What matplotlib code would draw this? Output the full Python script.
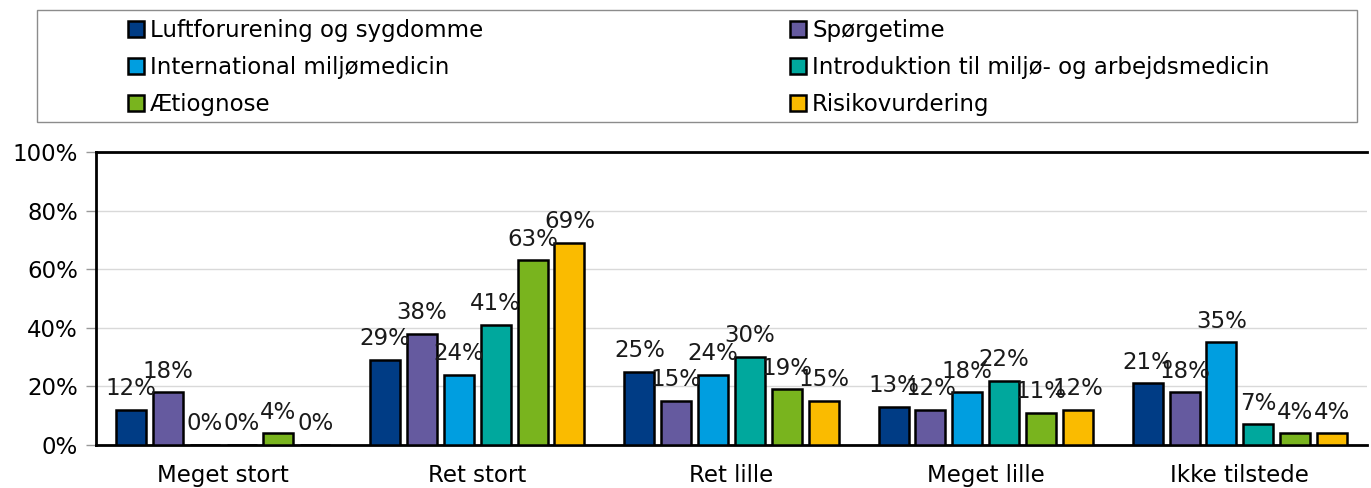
import matplotlib.pyplot as plt
import numpy as np
from matplotlib.patches import Rectangle, Patch

# Data
kategorier = ["Meget stort", "Ret stort", "Ret lille", "Meget lille", "Ikke tilstede"]
serier = ["Luftforurening og sygdomme", "Spørgetime", "International miljømedicin",
          "Introduktion til miljø- og arbejdsmedicin", "Ætiognose", "Risikovurdering"]
luft = [12, 29, 25, 13, 21]
spoergetime = [18, 38, 15, 12, 18]
international = [0, 24, 24, 18, 35]
introduktion = [0, 41, 30, 22, 7]
aetiognose = [4, 63, 19, 11, 4]
risiko = [0, 69, 15, 12, 4]
vaerdier = [luft, spoergetime, international, introduktion, aetiognose, risiko]
farver = ["#003C85", "#655A9F", "#009EE0", "#00A89D", "#79B41E", "#FABB00"]

plt.rcParams['font.family'] = ['DejaVu Sans']
fs = 16.5

fig = plt.figure(figsize=(13.71, 4.88), dpi=100)
ax = fig.add_axes([96/1371, 1 - 445/488, 1271/1371, 293/488])

x = np.arange(len(kategorier))
bredde = 0.118
afstand = 0.145
for i, (vals, farve) in enumerate(zip(vaerdier, farver)):
    pos = x + (i - 2.5) * afstand
    ax.bar(pos, vals, width=bredde, color=farve, edgecolor='black', linewidth=1.8, zorder=3)
    for p, v in zip(pos, vals):
        ax.annotate(f"{v}%", (p, v), xytext=(0, 7), textcoords='offset points',
                    ha='center', va='bottom', fontsize=fs, color='#1a1a1a', zorder=4)

ax.set_xlim(-0.5, 4.5)
ax.set_ylim(0, 100)
ax.set_yticks(range(0, 101, 20))
ax.set_yticklabels([f"{t}%" for t in range(0, 101, 20)], fontsize=fs)
ax.set_xticks(x)
ax.set_xticklabels(kategorier, fontsize=fs)
ax.tick_params(axis='x', length=0, pad=14)
ax.tick_params(axis='y', length=7, width=1, color='#999999', pad=6)
ax.grid(axis='y', color='#d9d9d9', linewidth=1, zorder=0)
for s in ['left', 'bottom', 'top']:
    ax.spines[s].set_linewidth(2)
ax.spines['right'].set_visible(False)

# Legende
fig.patches.append(Rectangle((37/1371, 1 - 122/488), 1320/1371, 112/488,
                             transform=fig.transFigure, facecolor='white',
                             edgecolor='#8c8c8c', linewidth=1))
handles = [Patch(facecolor=f, edgecolor='black', linewidth=1.8) for f in farver]
for col, xpos in enumerate([110/1371, 772/1371]):
    idx = [col, col + 2, col + 4]
    fig.legend([handles[i] for i in idx], [serier[i] for i in idx],
               loc='upper left', bbox_to_anchor=(xpos, 1 - 1/488),
               frameon=False, fontsize=fs, handlelength=0.7, handleheight=0.7,
               handletextpad=0.25, labelspacing=0.6, borderpad=0.3)

fig.savefig("out.png", dpi=100)
